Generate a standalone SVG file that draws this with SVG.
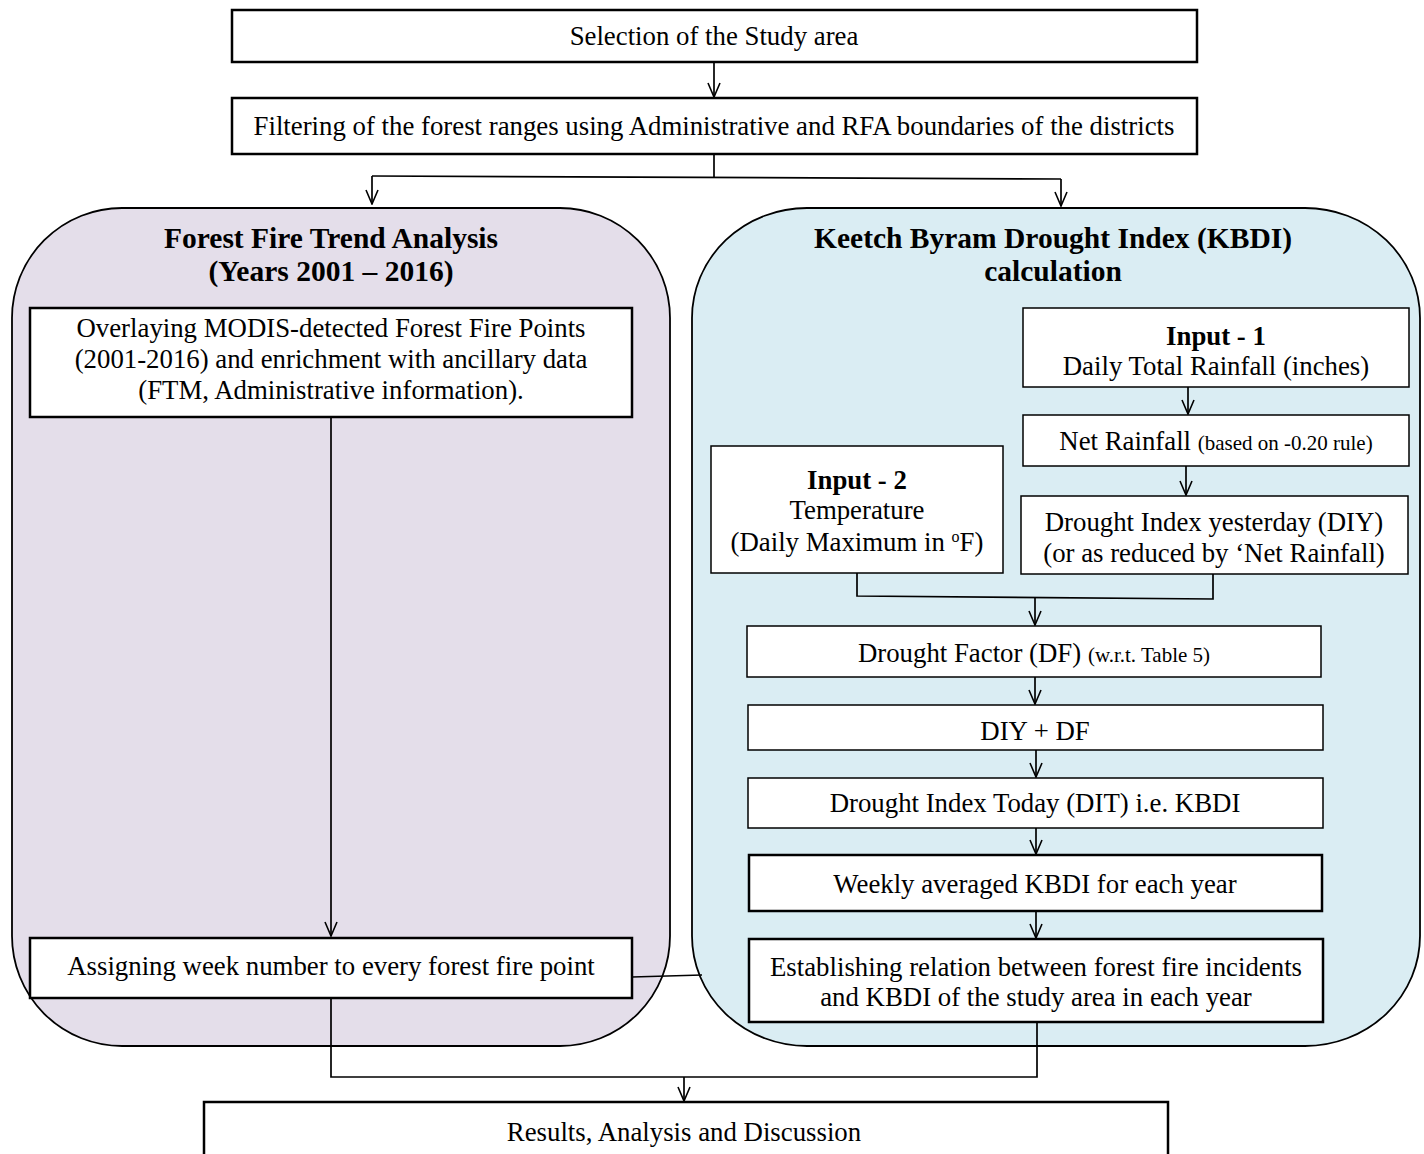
<svg xmlns="http://www.w3.org/2000/svg" width="1424" height="1154" viewBox="0 0 1424 1154">
<style>
.box{fill:#fff;stroke:#000;stroke-width:1.5}
.bx2{fill:#fff;stroke:#000;stroke-width:2.5}
.t{font-family:"Liberation Serif","Times New Roman",serif;font-size:26.8px;fill:#000;text-anchor:middle}
.b{font-weight:bold;font-size:29.5px}
.bi{font-weight:bold;font-size:26.8px}
.s{font-size:21px}
.c{fill:none;stroke:#000;stroke-width:1.7}
.a{fill:none;stroke:#000;stroke-width:1.7;marker-end:url(#ah)}
</style>
<defs>
<marker id="ah" markerUnits="userSpaceOnUse" markerWidth="16" markerHeight="14" refX="15" refY="7" orient="auto" viewBox="0 0 16 14">
<path d="M1,1 L15,7 L1,13" fill="none" stroke="#000" stroke-width="1.6"/>
</marker>
</defs>
<rect width="1424" height="1154" fill="#fff"/>

<g id="grp-left">
<path d="M12,936 L12,318 A110,110 0 0 1 122,208 L560,208 A110,110 0 0 1 670,318 L670,936 A110,110 0 0 1 560,1046 L122,1046 A110,110 0 0 1 12,936 Z" fill="#E4DEEA" stroke="#000" stroke-width="1.8"/>
<text class="t b" x="331" y="248">Forest Fire Trend Analysis</text>
<text class="t b" x="331" y="281">(Years 2001 – 2016)</text>
</g>
<g id="grp-right">
<path d="M692,936 L692,318 A115,110 0 0 1 807,208 L1305,208 A115,110 0 0 1 1420,318 L1420,936 A115,110 0 0 1 1305,1046 L807,1046 A115,110 0 0 1 692,936 Z" fill="#DAEDF3" stroke="#000" stroke-width="1.8"/>
<text class="t b" x="1053" y="248">Keetch Byram Drought Index (KBDI)</text>
<text class="t b" x="1053" y="281">calculation</text>
</g>

<g id="connectors">
<path class="a" d="M714,62 L714,97"/>
<path class="c" d="M714,154 L714,177"/>
<path class="c" d="M372,176 L1061,179"/>
<path class="a" d="M372,176 L372,204"/>
<path class="a" d="M1061,179 L1061,206"/>
<path class="a" d="M331,417 L331,936"/>
<path class="c" d="M632,977 L702,975"/>
<path class="a" d="M1188,387 L1188,414"/>
<path class="a" d="M1186,466 L1186,495"/>
<path class="c" d="M857,573 L857,596 L1213,599 L1213,574"/>
<path class="a" d="M1035,597 L1035,625"/>
<path class="a" d="M1035,677 L1035,704"/>
<path class="a" d="M1036,750 L1036,777"/>
<path class="a" d="M1036,828 L1036,854"/>
<path class="a" d="M1036,911 L1036,938"/>
<path class="c" d="M331,998 L331,1077 L1037,1077 L1037,1022"/>
<path class="a" d="M684,1077 L684,1101"/>
</g>

<g id="n-selection">
<rect class="bx2" x="232" y="10" width="965" height="52"/>
<text class="t" x="714" y="45">Selection of the Study area</text>
</g>
<g id="n-filtering">
<rect class="bx2" x="232" y="98" width="965" height="56"/>
<text class="t" x="714" y="135">Filtering of the forest ranges using Administrative and RFA boundaries of the districts</text>
</g>
<g id="n-overlay">
<rect class="bx2" x="30" y="308" width="602" height="109"/>
<text class="t" x="331" y="337">Overlaying MODIS-detected Forest Fire Points</text>
<text class="t" x="331" y="368">(2001-2016) and enrichment with ancillary data</text>
<text class="t" x="331" y="399">(FTM, Administrative information).</text>
</g>
<g id="n-assign">
<rect class="bx2" x="30" y="938" width="602" height="60"/>
<text class="t" x="331" y="975">Assigning week number to every forest fire point</text>
</g>
<g id="n-input1">
<rect class="box" x="1023" y="308" width="386" height="79"/>
<text class="t bi" x="1216" y="345">Input - 1</text>
<text class="t" x="1216" y="375">Daily Total Rainfall (inches)</text>
</g>
<g id="n-net">
<rect class="box" x="1023" y="415" width="386" height="51"/>
<text class="t" x="1216" y="450">Net Rainfall <tspan class="s">(based on -0.20 rule)</tspan></text>
</g>
<g id="n-diy">
<rect class="box" x="1021" y="496" width="387" height="78"/>
<text class="t" x="1214" y="531">Drought Index yesterday (DIY)</text>
<text class="t" x="1214" y="562">(or as reduced by ‘Net Rainfall)</text>
</g>
<g id="n-input2">
<rect class="box" x="711" y="446" width="292" height="127"/>
<text class="t bi" x="857" y="489">Input - 2</text>
<text class="t" x="857" y="519">Temperature</text>
<text class="t" x="857" y="551">(Daily Maximum in <tspan font-size="16" dy="-9">o</tspan><tspan dy="9">F)</tspan></text>
</g>
<g id="n-df">
<rect class="box" x="747" y="626" width="574" height="51"/>
<text class="t" x="1034" y="662">Drought Factor (DF) <tspan class="s">(w.r.t. Table 5)</tspan></text>
</g>
<g id="n-sum">
<rect class="box" x="748" y="705" width="575" height="45"/>
<text class="t" x="1035" y="740">DIY + DF</text>
</g>
<g id="n-dit">
<rect class="box" x="748" y="778" width="575" height="50"/>
<text class="t" x="1035" y="812">Drought Index Today (DIT) i.e. KBDI</text>
</g>
<g id="n-weekly">
<rect class="bx2" x="749" y="855" width="573" height="56"/>
<text class="t" x="1035" y="893">Weekly averaged KBDI for each year</text>
</g>
<g id="n-establish">
<rect class="bx2" x="749" y="939" width="574" height="83"/>
<text class="t" x="1036" y="976">Establishing relation between forest fire incidents</text>
<text class="t" x="1036" y="1006">and KBDI of the study area in each year</text>
</g>
<g id="n-results">
<rect class="bx2" x="204" y="1102" width="964" height="60"/>
<text class="t" x="684" y="1141">Results, Analysis and Discussion</text>
</g>
</svg>
